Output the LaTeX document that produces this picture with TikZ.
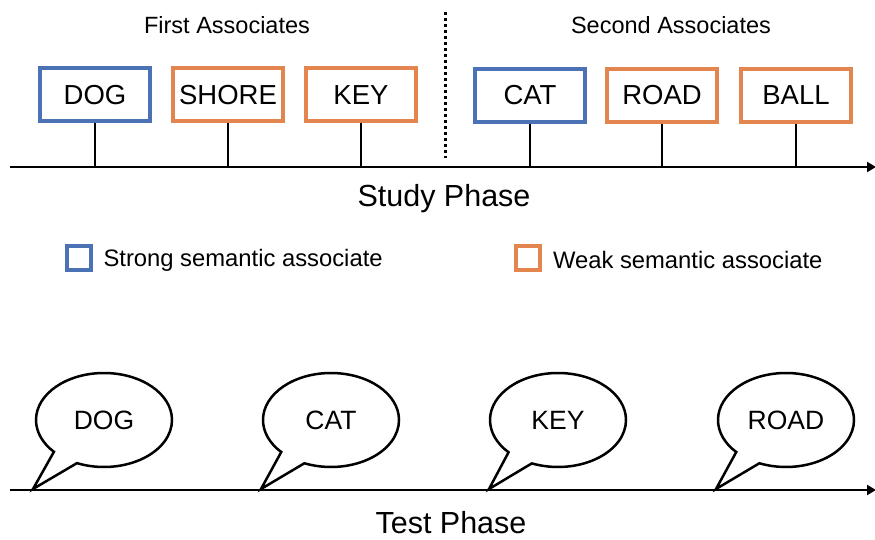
\documentclass[tikz,border=0pt]{standalone}
\usepackage{fontspec}
\setmainfont{Liberation Sans}
\usetikzlibrary{shapes,shapes.callouts,arrows.meta,positioning}
\definecolor{strongblue}{RGB}{74,114,180}
\definecolor{weakorange}{RGB}{227,133,79}
\tikzstyle{wordbox} = [draw,rectangle,line width=4pt,minimum width=110pt,minimum height=53pt,inner sep=0,font=\fontsize{27.5}{31}\selectfont]
\tikzstyle{strongbox} = [wordbox,draw=strongblue]
\tikzstyle{weakbox} = [wordbox,draw=weakorange]
\tikzstyle{stem} = [-,line width=2pt]
\tikzstyle{timeline} = [line width=2.2pt,-{Triangle[length=9pt,width=10pt]}]
\tikzstyle{bubble} = [draw,ellipse callout,line width=2.5pt,minimum width=136pt,minimum height=94pt,callout pointer arc=24,font=\fontsize{26.5}{30}\selectfont]
\tikzstyle{keybox} = [draw,rectangle,line width=4pt,minimum size=24pt,inner sep=0]
\tikzstyle{phase} = [font=\fontsize{30.5}{35}\selectfont,inner sep=2pt]
\tikzstyle{grouplabel} = [font=\fontsize{23.5}{27}\selectfont]
\tikzstyle{legendtext} = [font=\fontsize{23.8}{27}\selectfont,anchor=west]
\def \ty {489}

\begin{document}
\begin{tikzpicture}[x=1pt,y=-1pt]
  \useasboundingbox (0,0) rectangle (875,540);
  % study phase
  \coordinate (s0) at (10,167);
  \coordinate (s1) at (876,167);
  \draw[timeline] (s0) -- (s1);
  \node[strongbox] (dog) at (95,95) {DOG};
  \node[weakbox] (shore) at (228,95) {SHORE};
  \node[weakbox] (key) at (361,95) {KEY};
  \node[strongbox] (cat) at (530,95.5) {CAT};
  \node[weakbox] (road) at (662,95.5) {ROAD};
  \node[weakbox] (ball) at (796,95.5) {BALL};
  \foreach \w in {dog,shore,key,cat,road,ball}
    \draw[stem] (\w.south) -- (\w.south |- s0);
  \coordinate (d0) at (445,12);
  \coordinate (d1) at (445,158);
  \draw[line width=3pt,dash pattern=on 3pt off 3pt] (d0) -- (d1);
  \node[grouplabel] (first) at (227,25) {First Associates};
  \node[grouplabel] (second) at (671,25) {Second Associates};
  \node[phase] (study) at (444,199) {Study Phase};
  % legend
  \node[keybox,draw=strongblue] (strongkey) at (79,258) {};
  \node[legendtext,right=7pt of strongkey,yshift=-2pt] (strongtext) {Strong semantic associate};
  \node[keybox,draw=weakorange] (weakkey) at (527.5,258) {};
  \node[legendtext,right=8pt of weakkey,yshift=-2pt] (weaktext) {Weak semantic associate};
  % test phase
  \coordinate (t0) at (10,490);
  \coordinate (t1) at (876,490);
  \draw[timeline] (t0) -- (t1);
  \coordinate (p1) at (33,\ty);
  \coordinate (p2) at (261,\ty);
  \coordinate (p3) at (489,\ty);
  \coordinate (p4) at (716,\ty);
  \node[bubble,callout absolute pointer=(p1)] (b1) at (104,420) {DOG};
  \node[bubble,callout absolute pointer=(p2)] (b2) at (331,420) {CAT};
  \node[bubble,callout absolute pointer=(p3)] (b3) at (558,420) {KEY};
  \node[bubble,callout absolute pointer=(p4)] (b4) at (786,420) {ROAD};
  \node[phase] (test) at (451,523) {Test Phase};
\end{tikzpicture}
\end{document}
